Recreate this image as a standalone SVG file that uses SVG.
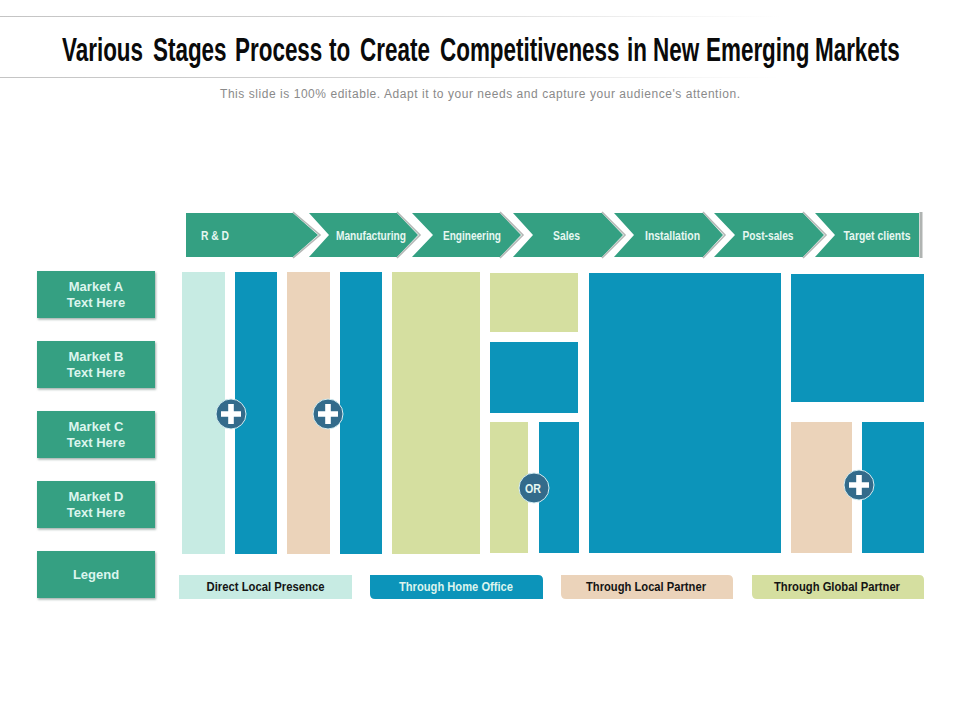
<svg xmlns="http://www.w3.org/2000/svg" width="960" height="720" viewBox="0 0 960 720">
<defs>
<linearGradient id="fade" gradientUnits="userSpaceOnUse" x1="0" y1="0" x2="780" y2="0"><stop offset="0" stop-color="#c4c4c4"/><stop offset="0.5" stop-color="#d4d4d4"/><stop offset="1" stop-color="#ffffff"/></linearGradient>
<filter id="sh" x="-10%" y="-10%" width="120%" height="125%"><feDropShadow dx="1" dy="1.5" stdDeviation="1" flood-color="#8a9a96" flood-opacity="0.8"/></filter>
<g id="plus"><circle r="15" fill="#336B8B" stroke="#d5eef2" stroke-width="1"/><path d="M-2.800-10H2.800V-2.800H10V2.800H2.800V10H-2.800V2.800H-10V-2.800H-2.800Z" fill="#fff"/></g>
</defs>
<style>
.title{font:bold 34px "Liberation Sans",sans-serif;fill:#0a0a0a}
.sub{font:12px "Liberation Sans",sans-serif;fill:#8a8a8a}
.chev{fill:#34A082}
.edge{fill:none;stroke:#b4b8b6;stroke-width:1.6}
.st{font:bold 12px "Liberation Sans",sans-serif;fill:#e6f7f1;text-anchor:middle}
.mk{fill:#34A082;filter:url(#sh)}
.mt{font:bold 13px "Liberation Sans",sans-serif;fill:#dcf5ee;text-anchor:middle}
.leg{font:bold 13px "Liberation Sans",sans-serif;text-anchor:middle}
.a{fill:#C7EBE3}.b{fill:#0C94BA}.c{fill:#EBD3BA}.d{fill:#D5DFA0}
</style>
<rect width="960" height="720" fill="#fff"/>
<g id="header">
<rect x="0" y="16" width="780" height="1" fill="url(#fade)"/>
<rect x="0" y="77" width="780" height="1" fill="url(#fade)"/>
<text class="title" transform="scale(0.66,1)" y="61"><tspan x="93.900">Various </tspan><tspan x="231.800">Stages </tspan><tspan x="356.100">Process </tspan><tspan x="498.500">to </tspan><tspan x="545.500">Create </tspan><tspan x="666.700">Competitiveness </tspan><tspan x="950">in </tspan><tspan x="989.400">New </tspan><tspan x="1069.700">Emerging </tspan><tspan x="1234.800">Markets</tspan></text>
<text class="sub" x="220" y="98" textLength="520" lengthAdjust="spacing">This slide is 100% editable. Adapt it to your needs and capture your audience's attention.</text>
</g>
<g id="stage-rd"><path class="chev" d="M186 213H293L318 235L293 257H186Z"/><path class="edge" d="M293 212L320 235L293 258"/><text class="st" x="215" y="240" textLength="28" lengthAdjust="spacingAndGlyphs">R &amp; D</text></g>
<g id="stage-manufacturing"><path class="chev" d="M309 213H397L418 235L397 257H309L329 235Z"/><path class="edge" d="M397 212L420 235L397 258"/><text class="st" x="371" y="240" textLength="70" lengthAdjust="spacingAndGlyphs">Manufacturing</text></g>
<g id="stage-engineering"><path class="chev" d="M412 213H500L521 235L500 257H412L433 235Z"/><path class="edge" d="M500 212L523 235L500 258"/><text class="st" x="472" y="240" textLength="58" lengthAdjust="spacingAndGlyphs">Engineering</text></g>
<g id="stage-sales"><path class="chev" d="M513 213H602L623 235L602 257H513L533 235Z"/><path class="edge" d="M602 212L625 235L602 258"/><text class="st" x="566.500" y="240" textLength="27" lengthAdjust="spacingAndGlyphs">Sales</text></g>
<g id="stage-installation"><path class="chev" d="M614 213H703L723 235L703 257H614L634 235Z"/><path class="edge" d="M703 212L725 235L703 258"/><text class="st" x="672.500" y="240" textLength="55" lengthAdjust="spacingAndGlyphs">Installation</text></g>
<g id="stage-postsales"><path class="chev" d="M714 213H803L824 235L803 257H714L735 235Z"/><path class="edge" d="M803 212L826 235L803 258"/><text class="st" x="768" y="240" textLength="51" lengthAdjust="spacingAndGlyphs">Post-sales</text></g>
<g id="stage-target"><path class="chev" d="M815 213H919V257H815L835 235Z"/><rect x="919.500" y="212" width="3" height="46" fill="#b0b4b2"/><text class="st" x="877" y="240" textLength="67" lengthAdjust="spacingAndGlyphs">Target clients</text></g>
<g id="market-a"><rect class="mk" x="37" y="271" width="118" height="47"/><text class="mt" x="96" y="291">Market A</text><text class="mt" x="96" y="307">Text Here</text></g>
<g id="market-b"><rect class="mk" x="37" y="341" width="118" height="47"/><text class="mt" x="96" y="361">Market B</text><text class="mt" x="96" y="377">Text Here</text></g>
<g id="market-c"><rect class="mk" x="37" y="411" width="118" height="47"/><text class="mt" x="96" y="431">Market C</text><text class="mt" x="96" y="447">Text Here</text></g>
<g id="market-d"><rect class="mk" x="37" y="481" width="118" height="47"/><text class="mt" x="96" y="501">Market D</text><text class="mt" x="96" y="517">Text Here</text></g>
<g id="legend-title"><rect class="mk" x="37" y="551" width="118" height="47"/><text class="mt" x="96" y="579">Legend</text></g>
<g id="blocks">
<rect class="a" x="182" y="272" width="43" height="282"/>
<rect class="b" x="235" y="272" width="42" height="282"/>
<rect class="c" x="287" y="272" width="43" height="282"/>
<rect class="b" x="340" y="272" width="42" height="282"/>
<rect class="d" x="392" y="272" width="88" height="282"/>
<rect class="d" x="490" y="273" width="88" height="59"/>
<rect class="b" x="490" y="342" width="88" height="71"/>
<rect class="d" x="490" y="422" width="38" height="131"/>
<rect class="b" x="539" y="422" width="40" height="131"/>
<rect class="b" x="589" y="273" width="192" height="280"/>
<rect class="b" x="791" y="274" width="133" height="128"/>
<rect class="c" x="791" y="422" width="61" height="131"/>
<rect class="b" x="862" y="422" width="62" height="131"/>
</g>
<g id="plus-1"><use href="#plus" x="231" y="414"/></g>
<g id="plus-2"><use href="#plus" x="328" y="414"/></g>
<g id="or-badge"><circle cx="534" cy="488" r="15" fill="#336B8B" stroke="#d5eef2" stroke-width="1"/><text x="533" y="493" text-anchor="middle" style="font:bold 13px 'Liberation Sans',sans-serif;fill:#e6f7f1" textLength="16" lengthAdjust="spacingAndGlyphs">OR</text></g>
<g id="plus-3"><use href="#plus" x="859" y="485"/></g>
<g id="legend-direct"><rect class="a" x="179" y="575" width="173" height="24"/><text class="leg" x="265.500" y="591" fill="#141414" textLength="118" lengthAdjust="spacingAndGlyphs">Direct Local Presence</text></g>
<g id="legend-home"><path class="b" d="M370 575H538Q543 575 543 580V599H375Q370 599 370 594Z"/><text class="leg" x="456" y="591" fill="#dcf5ee" textLength="114" lengthAdjust="spacingAndGlyphs">Through Home Office</text></g>
<g id="legend-local"><path class="c" d="M561 575H728Q733 575 733 580V599H566Q561 599 561 594Z"/><text class="leg" x="646" y="591" fill="#141414" textLength="120" lengthAdjust="spacingAndGlyphs">Through Local Partner</text></g>
<g id="legend-global"><path class="d" d="M752 575H919Q924 575 924 580V599H757Q752 599 752 594Z"/><text class="leg" x="837" y="591" fill="#141414" textLength="126" lengthAdjust="spacingAndGlyphs">Through Global Partner</text></g>
</svg>
